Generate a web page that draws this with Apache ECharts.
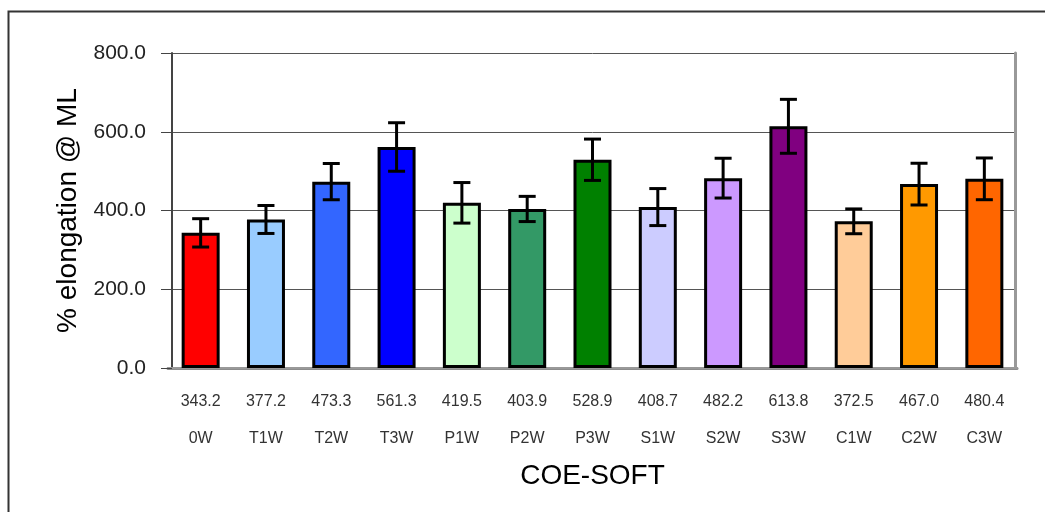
<!DOCTYPE html>
<html>
<head>
<meta charset="utf-8">
<script src="https://cdn.jsdelivr.net/npm/echarts@6/dist/echarts.min.js"></script>
<style>
html,body{margin:0;padding:0;background:#fff;}
#chart{width:1045px;height:512px;}
</style>
</head>
<body>
<div id="chart"></div>
<script>
var categories = ['0W','T1W','T2W','T3W','P1W','P2W','P3W','S1W','S2W','S3W','C1W','C2W','C3W'];
var means = [343.2,377.2,473.3,561.3,419.5,403.9,528.9,408.7,482.2,613.8,372.5,467.0,480.4];
var errors = [36,35.5,46,61.6,51.5,32,52.5,47,50.5,68.5,31.5,53,53];
var barColors = ['#FF0000','#99CCFF','#3366FF','#0000FF','#CCFFCC','#339966','#008000','#CCCCFF','#CC99FF','#800080','#FFCC99','#FF9900','#FF6600'];
var yTicks = [0,200,400,600,800];

var FONT = '"Liberation Sans", Arial, sans-serif';
var chart = echarts.init(document.getElementById('chart'), null, {renderer:'canvas'});

var barData = means.map(function(v,i){
  return {value:v, itemStyle:{color:barColors[i]}};
});
var errData = means.map(function(v,i){ return [i, v, errors[i]]; });

var option = {
  animation:false,
  backgroundColor:'#fff',
  textStyle:{fontFamily:FONT},
  graphic:[{
    type:'rect', silent:true, z:-10,
    shape:{x:8.5,y:11.5,width:3000,height:3000},
    style:{fill:'none',stroke:'#333',lineWidth:2}
  }],
  grid:{left:168,right:28,top:53,bottom:144,containLabel:false},
  xAxis:[{
    type:'category',
    data:categories,
    position:'bottom',
    axisLine:{show:true,lineStyle:{color:'#8c8c8c',width:3}},
    axisTick:{show:false},
    axisLabel:{
      interval:0,
      margin:15,
      fontSize:16,
      lineHeight:37,
      color:'#333',
      fontFamily:FONT,
      formatter:function(name, idx){ return means[idx].toFixed(1) + '\n' + name; }
    },
    name:'COE-SOFT',
    nameLocation:'middle',
    nameGap:84,
    nameTextStyle:{fontSize:28,color:'#000',fontFamily:FONT}
  },{
    type:'category',
    data:categories,
    position:'top',
    axisLine:{show:true,lineStyle:{color:'#999',width:2}},
    axisTick:{show:false},
    axisLabel:{show:false}
  }],
  yAxis:[{
    type:'value',
    min:0, max:800, interval:200,
    offset:-4,
    axisLine:{show:true,lineStyle:{color:'#444',width:2}},
    axisTick:{show:true,length:11,inside:false,lineStyle:{color:'#444',width:1}},
    axisLabel:{
      margin:26,
      fontSize:21,
      color:'#222',
      fontFamily:FONT,
      formatter:function(v){ return v.toFixed(1); }
    },
    splitLine:{show:true,lineStyle:{color:'#555',width:1}},
    name:'% elongation @ ML',
    nameLocation:'middle',
    nameGap:90,
    nameTextStyle:{fontSize:28,color:'#000',fontFamily:FONT}
  },{
    type:'value',
    min:0, max:800, interval:200,
    position:'right',
    offset:-2,
    axisLine:{show:true,lineStyle:{color:'#999',width:3}},
    axisTick:{show:false},
    axisLabel:{show:false},
    splitLine:{show:false}
  }],
  series:[{
    type:'bar',
    data:barData,
    barWidth:38,
    itemStyle:{borderColor:'#000',borderWidth:3},
    z:2
  },{
    type:'custom',
    data:errData,
    z:5,
    encode:{x:0,y:1},
    renderItem:function(params, api){
      var idx = api.value(0), m = api.value(1), e = api.value(2);
      var top = api.coord([idx, m + e]);
      var bot = api.coord([idx, m - e]);
      var hw = 8.5;
      var st = {stroke:'#000', lineWidth:3};
      return {type:'group', children:[
        {type:'line', shape:{x1:top[0],y1:top[1],x2:bot[0],y2:bot[1]}, style:st},
        {type:'line', shape:{x1:top[0]-hw,y1:top[1],x2:top[0]+hw,y2:top[1]}, style:st},
        {type:'line', shape:{x1:bot[0]-hw,y1:bot[1],x2:bot[0]+hw,y2:bot[1]}, style:st}
      ]};
    }
  }]
};
chart.setOption(option);
</script>
</body>
</html>
